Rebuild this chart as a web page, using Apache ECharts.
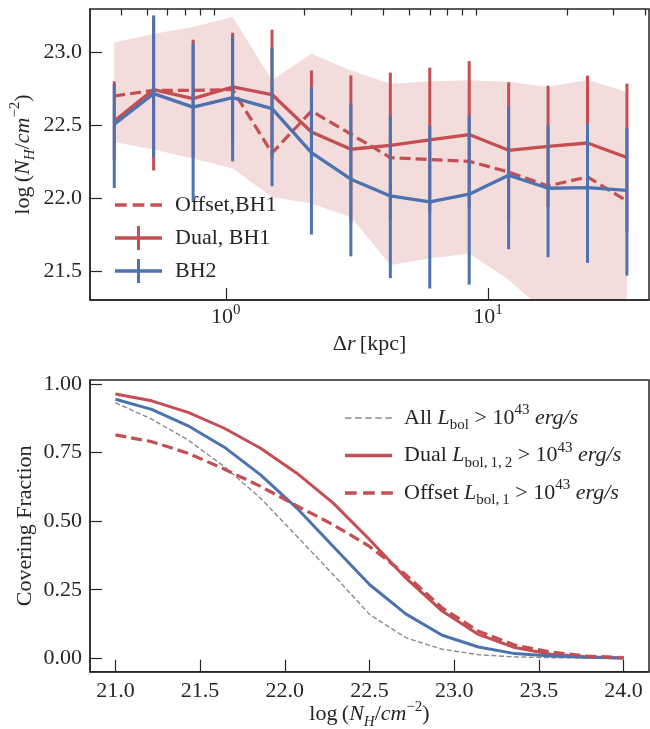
<!DOCTYPE html>
<html><head><meta charset="utf-8">
<script src="https://cdn.jsdelivr.net/npm/echarts@6/dist/echarts.min.js"></script>
<style>html,body{margin:0;padding:0;background:#fff}#c{width:650px;height:729px}</style>
</head><body><div id="c"></div>
<script>
// ---------- top panel data ----------
const sepKpc   = [0.375, 0.530, 0.750, 1.061, 1.5, 2.121, 3.0, 4.243, 6.0, 8.485, 12.0, 16.97, 24.0, 33.94];
const dualBH1  = [22.53, 22.746, 22.684, 22.764, 22.712, 22.455, 22.336, 22.363, 22.40, 22.437, 22.329, 22.356, 22.379, 22.279];
const dualHi   = [22.803, 23.24, 23.089, 23.137, 23.158, 22.878, 22.844, 22.863, 22.897, 22.942, 22.796, 22.773, 22.842, 22.787];
const dualLo   = [22.26, 22.19, 22.28, 22.39, 22.27, 22.03, 21.83, 21.86, 21.90, 21.93, 21.86, 21.94, 21.92, 21.77];
const bh2      = [22.508, 22.718, 22.626, 22.691, 22.615, 22.313, 22.13, 22.015, 21.974, 22.027, 22.157, 22.068, 22.073, 22.054];
const bh2Hi    = [22.785, 23.256, 23.066, 23.119, 23.032, 22.76, 22.647, 22.569, 22.499, 22.569, 22.629, 22.503, 22.512, 22.482];
const bh2Lo    = [22.07, 22.283, 21.982, 22.253, 22.082, 21.75, 21.60, 21.45, 21.379, 21.406, 21.649, 21.594, 21.555, 21.468];
const offsetBH1= [22.702, 22.741, 22.741, 22.746, 22.31, 22.599, 22.44, 22.279, 22.265, 22.253, 22.18, 22.084, 22.146, 21.98];
const bandHi   = [23.069, 23.13, 23.176, 23.245, 22.81, 22.993, 22.878, 22.787, 22.803, 22.81, 22.80, 22.764, 22.814, 22.73];
const bandLo   = [22.386, 22.334, 22.272, 22.203, 22.008, 21.963, 21.87, 21.54, 21.585, 21.62, 21.44, 21.2, 21.31, 21.1];
const topYTicks = [21.5, 22.0, 22.5, 23.0];
const topXMajor = [1, 10];
const topXMinor = [0.4, 0.5, 0.6, 0.7, 0.8, 0.9, 2, 3, 4, 5, 6, 7, 8, 9, 20, 30, 40];

// ---------- bottom panel data ----------
const logNH     = [21.0, 21.214, 21.429, 21.643, 21.857, 22.071, 22.286, 22.5, 22.714, 22.929, 23.143, 23.357, 23.571, 23.786, 24.0];
const cfAll     = [0.932, 0.872, 0.796, 0.699, 0.584, 0.445, 0.305, 0.160, 0.075, 0.033, 0.013, 0.005, 0.002, 0.001, 0.000];
const cfDual    = [0.964, 0.939, 0.897, 0.839, 0.766, 0.675, 0.566, 0.433, 0.293, 0.172, 0.087, 0.039, 0.015, 0.005, 0.001];
const cfBH2     = [0.945, 0.908, 0.848, 0.770, 0.669, 0.548, 0.408, 0.269, 0.162, 0.084, 0.041, 0.017, 0.008, 0.004, 0.001];
const cfOffset  = [0.815, 0.790, 0.748, 0.690, 0.627, 0.556, 0.487, 0.408, 0.305, 0.184, 0.099, 0.048, 0.023, 0.008, 0.002];
const botXTicks = [21.0, 21.5, 22.0, 22.5, 23.0, 23.5, 24.0];
const botYTicks = [0, 0.25, 0.5, 0.75, 1.0];

// ---------- styles ----------
const RED = '#c44e52', BLUE = '#4c72b0', GRAY = '#8a8a8a', INK = '#262626';
const FONT = 'Liberation Serif';
const rich = {
  n:   {fontFamily: FONT, fontSize: 22, color: INK, lineHeight: 30},
  i:   {fontFamily: FONT, fontSize: 22, color: INK, lineHeight: 30, fontStyle: 'italic'},
  isub:{fontFamily: FONT, fontSize: 15, color: INK, lineHeight: 15, fontStyle: 'italic', verticalAlign: 'bottom'},
  sub: {fontFamily: FONT, fontSize: 15, color: INK, lineHeight: 15, verticalAlign: 'bottom'},
  sup: {fontFamily: FONT, fontSize: 15, color: INK, lineHeight: 15, verticalAlign: 'top'}
};
const nhName = '{n|log\u2009(}{i|N}{isub|H}{n|/}{i|cm}{sup|\u22122}{n|)}';

function rectPath(x, y, w, h) { return 'M' + x + ',' + y + 'h' + w + 'v' + h + 'h' + (-w) + 'Z'; }
function boxCorners(W, H) { return rectPath(0, 0, 0.05, 0.05) + rectPath(W - 0.05, H - 0.05, 0.05, 0.05); }
function dashIcon(W, H, len, dash, gap, th) {
  let p = boxCorners(W, H), x = 0;
  while (x < len - 0.1) { const d = Math.min(dash, len - x); p += rectPath(x, H / 2 - th / 2, d, th); x += dash + gap; }
  return 'path://' + p;
}
function solidIcon(W, H, len, th) { return 'path://' + boxCorners(W, H) + rectPath(0, H / 2 - th / 2, len, th); }
function errIcon(W, H, len, th) {
  return 'path://' + boxCorners(W, H) + rectPath(0, H / 2 - th / 2, len, th) + rectPath(len / 2 - 1.5, 0, 3, H);
}

function errBars(lo, hi, color, z) {
  return {
    type: 'custom', xAxisIndex: 0, yAxisIndex: 0, z: z, silent: true,
    data: sepKpc.map((x, i) => [x, lo[i], hi[i]]),
    encode: {x: 0, y: [1, 2]},
    renderItem: (params, api) => {
      const a = api.coord([api.value(0), api.value(1)]);
      const b = api.coord([api.value(0), api.value(2)]);
      return {type: 'line', shape: {x1: a[0], y1: a[1], x2: b[0], y2: b[1]},
              style: {stroke: color, lineWidth: 3, lineCap: 'butt'}};
    }
  };
}
const pairs = (xs, ys) => xs.map((x, i) => [x, ys[i]]);

const axisTickStyle = {lineStyle: {color: INK, width: 1.2}};
const labelStyle = {fontFamily: FONT, fontSize: 22, color: INK};

const option = {
  animation: false,
  backgroundColor: '#fff',
  textStyle: {fontFamily: FONT, fontSize: 22, color: INK},
  grid: [
    {left: 90, top: 9, width: 559, height: 291, show: true, borderColor: INK, borderWidth: 1.5, backgroundColor: 'transparent', outerBoundsMode: 'none'},
    {left: 90, top: 380, width: 559, height: 291.7, show: true, borderColor: INK, borderWidth: 1.5, backgroundColor: 'transparent', outerBoundsMode: 'none'}
  ],
  xAxis: [
    {type: 'log', logBase: 10, gridIndex: 0, min: 0.303, max: 41.2, z: 5, nameMoveOverlap: false,
     axisLine: {show: true, onZero: false, lineStyle: {color: INK, width: 1.5}},
     axisTick: Object.assign({show: true, inside: true, length: 12, customValues: topXMajor}, axisTickStyle),
     axisLabel: {show: true, margin: 3, customValues: topXMajor, fontFamily: FONT, fontSize: 22, color: INK,
       formatter: v => '{b|10}{sup|' + Math.round(Math.log10(v)) + '}',
       rich: {b: {fontFamily: FONT, fontSize: 22, color: INK, lineHeight: 28},
              sup: {fontFamily: FONT, fontSize: 15, color: INK, lineHeight: 14, verticalAlign: 'top'}}},
     splitLine: {show: false},
     name: '{n|\u0394}{i|r}{n|\u2009[kpc]}', nameLocation: 'middle', nameGap: 29,
     nameTextStyle: {rich: rich}},
    {type: 'log', logBase: 10, gridIndex: 0, min: 0.303, max: 41.2, z: 5,
     axisLine: {show: false, onZero: false},
     axisTick: Object.assign({show: true, inside: true, length: 6.5, customValues: topXMinor}, axisTickStyle),
     axisLabel: {show: false}, splitLine: {show: false}},
    {type: 'value', gridIndex: 1, min: 20.85, max: 24.15, z: 5, nameMoveOverlap: false,
     axisLine: {show: true, onZero: false, lineStyle: {color: INK, width: 1.5}},
     axisTick: Object.assign({show: true, inside: true, length: 12, customValues: botXTicks}, axisTickStyle),
     axisLabel: Object.assign({margin: 9, customValues: botXTicks, formatter: v => v.toFixed(1)}, labelStyle),
     splitLine: {show: false},
     name: nhName, nameLocation: 'middle', nameGap: 28, nameTextStyle: {rich: rich}}
  ],
  yAxis: [
    {type: 'value', gridIndex: 0, min: 21.3, max: 23.3, z: 5, nameMoveOverlap: false,
     axisLine: {show: true, onZero: false, lineStyle: {color: INK, width: 1.5}},
     axisTick: Object.assign({show: true, inside: true, length: 12, customValues: topYTicks}, axisTickStyle),
     axisLabel: Object.assign({margin: 8, customValues: topYTicks, formatter: v => v.toFixed(1)}, labelStyle),
     splitLine: {show: false},
     name: nhName, nameLocation: 'middle', nameGap: 52, nameTextStyle: {rich: rich}},
    {type: 'value', gridIndex: 1, min: -0.049, max: 1.015, z: 5, nameMoveOverlap: false,
     axisLine: {show: true, onZero: false, lineStyle: {color: INK, width: 1.5}},
     axisTick: Object.assign({show: true, inside: true, length: 12, customValues: botYTicks}, axisTickStyle),
     axisLabel: Object.assign({margin: 8, customValues: botYTicks, formatter: v => v.toFixed(2)}, labelStyle),
     splitLine: {show: false},
     name: 'Covering Fraction', nameLocation: 'middle', nameGap: 50,
     nameTextStyle: {fontFamily: FONT, fontSize: 22, color: INK, lineHeight: 30}}
  ],
  legend: [
    {left: 110, top: 188, orient: 'vertical', itemWidth: 55, itemHeight: 24, itemGap: 9,
     itemStyle: {borderWidth: 0}, selectedMode: false,
     textStyle: {fontFamily: FONT, fontSize: 22, color: INK},
     data: [
       {name: 'Offset,BH1', icon: dashIcon(55, 24, 47, 11.7, 6, 3.3)},
       {name: 'Dual, BH1', icon: errIcon(55, 24, 47, 3.3)},
       {name: 'BH2', icon: errIcon(55, 24, 47, 3.3)}
     ]},
    {left: 340, top: 398, orient: 'vertical', itemWidth: 54, itemHeight: 24, itemGap: 7.5,
     itemStyle: {borderWidth: 0}, selectedMode: false,
     textStyle: {fontFamily: FONT, fontSize: 22, color: INK, rich: rich},
     formatter: function (name) {
       const m = {
         'All cf': '{n|All }{i|L}{sub|bol}{n| > 10}{sup|43}{i| erg/s}',
         'Dual cf': '{n|Dual }{i|L}{sub|bol,\u20091,\u20092}{n| > 10}{sup|43}{i| erg/s}',
         'Offset cf': '{n|Offset }{i|L}{sub|bol,\u20091}{n| > 10}{sup|43}{i| erg/s}'
       };
       return m[name];
     },
     data: [
       {name: 'All cf', icon: dashIcon(54, 24, 47, 6.5, 3.6, 1.5)},
       {name: 'Dual cf', icon: solidIcon(54, 24, 47, 3.3)},
       {name: 'Offset cf', icon: dashIcon(54, 24, 48, 11.7, 6.4, 3.3)}
     ]}
  ],
  series: [
    {type: 'custom', xAxisIndex: 0, yAxisIndex: 0, z: 1, clip: true, silent: true,
     data: [[1, 22]], encode: {x: 0, y: 1},
     renderItem: (params, api) => {
       const pts = [];
       for (let i = 0; i < sepKpc.length; i++) pts.push(api.coord([sepKpc[i], bandHi[i]]));
       for (let i = sepKpc.length - 1; i >= 0; i--) pts.push(api.coord([sepKpc[i], bandLo[i]]));
       return {type: 'polygon', shape: {points: pts}, style: {fill: 'rgba(196,78,82,0.2)'}};
     }},
    {name: 'Offset,BH1', type: 'line', xAxisIndex: 0, yAxisIndex: 0, z: 2, data: pairs(sepKpc, offsetBH1),
     color: RED, showSymbol: false, symbol: 'none', lineStyle: {color: RED, width: 3.2, type: [11, 5]}, silent: true},
    errBars(dualLo, dualHi, RED, 3),
    {name: 'Dual, BH1', type: 'line', xAxisIndex: 0, yAxisIndex: 0, z: 3, data: pairs(sepKpc, dualBH1),
     color: RED, showSymbol: false, symbol: 'none', lineStyle: {color: RED, width: 3.3}, silent: true},
    errBars(bh2Lo, bh2Hi, BLUE, 4),
    {name: 'BH2', type: 'line', xAxisIndex: 0, yAxisIndex: 0, z: 4, data: pairs(sepKpc, bh2),
     color: BLUE, showSymbol: false, symbol: 'none', lineStyle: {color: BLUE, width: 3.3}, silent: true},

    {name: 'All cf', type: 'line', xAxisIndex: 2, yAxisIndex: 1, z: 2, data: pairs(logNH, cfAll),
     color: GRAY, showSymbol: false, symbol: 'none', lineStyle: {color: GRAY, width: 1.4, type: [5, 2.5]}, silent: true},
    {name: 'Dual cf', type: 'line', xAxisIndex: 2, yAxisIndex: 1, z: 3, data: pairs(logNH, cfDual),
     color: RED, showSymbol: false, symbol: 'none', lineStyle: {color: RED, width: 3}, silent: true},
    {name: 'BH2 cf', type: 'line', xAxisIndex: 2, yAxisIndex: 1, z: 3, data: pairs(logNH, cfBH2),
     color: BLUE, showSymbol: false, symbol: 'none', lineStyle: {color: BLUE, width: 3}, silent: true},
    {name: 'Offset cf', type: 'line', xAxisIndex: 2, yAxisIndex: 1, z: 4, data: pairs(logNH, cfOffset),
     color: RED, showSymbol: false, symbol: 'none', lineStyle: {color: RED, width: 3.2, type: [11, 5]}, silent: true}
  ]
};
const chart = echarts.init(document.getElementById('c'), null, {renderer: 'canvas'});
chart.setOption(option);
</script>
</body></html>
